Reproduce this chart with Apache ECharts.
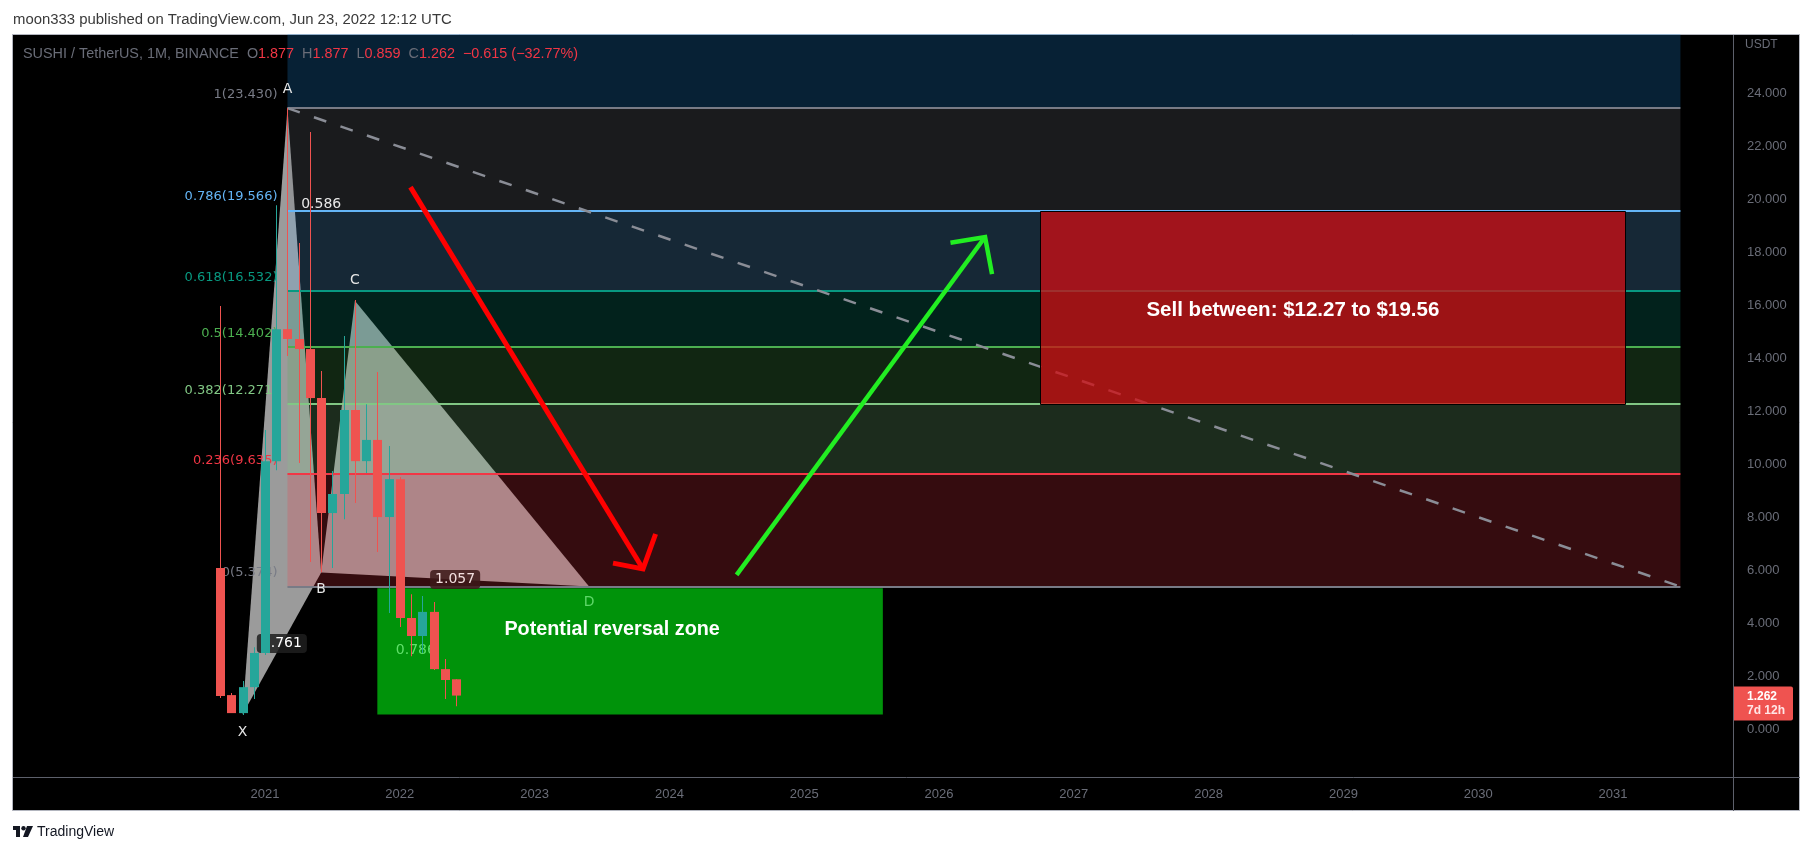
<!DOCTYPE html>
<html>
<head>
<meta charset="utf-8">
<script src="https://cdn.jsdelivr.net/npm/echarts@6/dist/echarts.min.js"></script>
<style>
html,body{margin:0;padding:0;background:#ffffff;}
#chart{width:1813px;height:856px;}
</style>
</head>
<body>
<div id="chart"></div>
<script>
// ---------------- data ----------------
const months = ['2020-09','2020-10','2020-11','2020-12','2021-01','2021-02','2021-03','2021-04','2021-05','2021-06','2021-07','2021-08','2021-09','2021-10','2021-11','2021-12','2022-01','2022-02','2022-03','2022-04','2022-05','2022-06'];
const opens  = [6.08,1.28,0.60,1.58,2.87,10.11,15.09,14.72,14.34,12.49,8.15,8.87,12.04,10.11,10.91,8.00,9.43,4.19,3.51,4.42,2.26,1.877];
const closes = [1.25,0.60,1.58,2.87,10.11,15.09,14.72,14.34,12.49,8.15,8.87,12.04,10.11,10.91,8.00,9.43,4.19,3.51,4.42,2.26,1.85,1.262];
const highs  = [15.96,1.36,1.81,3.09,11.28,19.77,23.43,18.34,22.53,13.51,9.74,14.83,16.19,12.26,13.47,10.68,9.51,5.09,5.02,4.79,2.64,1.877];
const lows   = [1.17,0.60,0.53,1.13,2.79,9.77,14.08,10.04,6.30,5.92,6.08,7.92,8.53,9.66,6.68,4.38,3.85,2.75,2.87,2.23,1.13,0.859];

// fibonacci retracement (A -> B)
const fibRatios = ['0','0.236','0.382','0.5','0.618','0.786','1','1.272'];
const fibValues = [5.374,9.635,12.271,14.402,16.532,19.566,23.430,28.341];
const fibColors = ['#787b86','#f23645','#81c784','#4caf50','#089981','#64b5f6','#787b86','#2196f3'];
const fibStartMonth = 2;     // Mar 2021 (point A)
const fibEndMonth = 126;     // Jul 2031

// XABCD pattern (x in months since Jan 2021)
const patternNames  = ['X','A','B','C','D'];
const patternMonths = [-2, 2, 5, 8, 28.85];
const patternValues = [0.55, 23.43, 5.91, 16.16, 5.374];
const ratioNames = ['0.761','0.586','1.057','0.786']; // XB, AC, BD, XD

// annotation zones
const sellZone = {start: 69, end: 121.1, low: 12.27, high: 19.56};
const reversalZone = {start: 10, end: 55.0, low: 0.55, high: 5.31};
const sellText = 'Sell between: $12.27 to $19.56';
const sellTextPos = [91.5, 15.81];
const reversalText = 'Potential reversal zone';
const reversalTextPos = [30.9, 3.74];

// arrows
const redArrowLine = [[12.95,20.45],[33.65,6.04]];
const redArrowHead = [[30.98,6.26],[33.65,6.04],[34.77,7.36]];
const greenArrowLine = [[41.98,5.82],[64.10,18.57]];
const greenArrowHead = [[61.02,18.35],[64.10,18.57],[64.72,17.17]];

const lastClose = 1.262;
const lastCountdown = '7d 12h';

// ---------------- helpers ----------------
function monthIndex(s){ const p = s.split('-').map(Number); return (p[0]-2021)*12 + (p[1]-1); }
function hexA(hex, a){ const n = parseInt(hex.slice(1),16); return 'rgba('+((n>>16)&255)+','+((n>>8)&255)+','+(n&255)+','+a+')'; }
function clip(r, cs){ return echarts.graphic.clipRectByRect(r, {x:cs.x, y:cs.y, width:cs.width, height:cs.height}); }
function single(z, fn){ return {type:'custom', z:z, silent:true, animation:false, data:[[0,0]], renderItem:fn}; }

const candleData = months.map((m,i)=>[monthIndex(m), opens[i], closes[i], lows[i], highs[i]]);
const P = patternNames.map((n,i)=>[patternMonths[i], patternValues[i]]);
const mid = (a,b)=>[(a[0]+b[0])/2, (a[1]+b[1])/2];

const chart = echarts.init(document.getElementById('chart'), null, {renderer:'canvas'});

const series = [];

// triangles of the pattern (under fib fills)
series.push(single(1, function(p, api){
  const c = P.map(q=>api.coord(q));
  return {type:'group', children:[
    {type:'polygon', shape:{points:[c[0],c[1],c[2]]}, style:{fill:'#9b9b9b'}},
    {type:'polygon', shape:{points:[c[2],c[3],c[4]]}, style:{fill:'#9b9b9b'}}
  ]};
}));

// fib zone fills
series.push(single(2, function(p, api){
  const cs = p.coordSys; const ch = [];
  for (let i=0;i<fibValues.length-1;i++){
    const a = api.coord([fibStartMonth, fibValues[i+1]]);
    const b = api.coord([fibEndMonth, fibValues[i]]);
    const r = clip({x:a[0], y:a[1], width:b[0]-a[0], height:b[1]-a[1]}, cs);
    if (r) ch.push({type:'rect', shape:r, style:{fill:hexA(fibColors[i+1], 0.22)}});
  }
  return {type:'group', children:ch};
}));

// reversal zone box
series.push(single(3, function(p, api){
  const a = api.coord([reversalZone.start, reversalZone.high]);
  const b = api.coord([reversalZone.end, reversalZone.low]);
  return {type:'rect', shape:{x:a[0], y:a[1], width:b[0]-a[0], height:b[1]-a[1]}, style:{fill:'#00930a'}};
}));

// fib lines + dashed trend line
series.push(single(3, function(p, api){
  const ch = [];
  for (let i=0;i<fibValues.length-1;i++){
    const a = api.coord([fibStartMonth, fibValues[i]]);
    const b = api.coord([fibEndMonth, fibValues[i]]);
    ch.push({type:'line', shape:{x1:a[0], y1:Math.round(a[1]), x2:b[0], y2:Math.round(b[1])}, style:{stroke:fibColors[i], lineWidth:2}});
  }
  const s = api.coord([fibStartMonth, fibValues[6]]);
  const e = api.coord([fibEndMonth, fibValues[0]]);
  ch.push({type:'line', shape:{x1:s[0], y1:s[1], x2:e[0], y2:e[1]}, style:{stroke:'#8a8d96', lineWidth:2.5, lineDash:[13,15]}});
  return {type:'group', children:ch};
}));

// labels: fib level labels, pattern letters, ratios
series.push(single(4, function(p, api){
  const ch = [];
  for (let i=0;i<7;i++){
    const a = api.coord([fibStartMonth, fibValues[i]]);
    ch.push({type:'text', x:a[0]-10, y:a[1]-13.5, style:{text:fibRatios[i]+'('+fibValues[i].toFixed(3)+')', fill:fibColors[i], font:'13px "DejaVu Sans"', align:'right', verticalAlign:'middle'}});
  }
  const c = P.map(q=>api.coord(q));
  const letterOff = [18, -19, 17, -20, 16];
  const letterCol = ['#e6e6e6','#e6e6e6','#e6e6e6','#e6e6e6','#5fd86a'];
  for (let i=0;i<5;i++){
    ch.push({type:'text', x:c[i][0], y:c[i][1]+letterOff[i], style:{text:patternNames[i], fill:letterCol[i], font:'14px "DejaVu Sans"', align:'center', verticalAlign:'middle'}});
  }
  const mXB = api.coord(mid(P[0],P[2])), mAC = api.coord(mid(P[1],P[3])), mBD = api.coord(mid(P[2],P[4])), mXD = api.coord(mid(P[0],P[4]));
  ch.push({type:'text', x:mXB[0], y:mXB[1], style:{text:ratioNames[0], fill:'#ffffff', font:'14px "DejaVu Sans"', align:'center', verticalAlign:'middle', backgroundColor:'rgba(30,30,30,0.85)', padding:[3,5,2,5], borderRadius:4}});
  ch.push({type:'text', x:mAC[0], y:mAC[1], style:{text:ratioNames[1], fill:'#e8e8e8', font:'14px "DejaVu Sans"', align:'center', verticalAlign:'middle'}});
  ch.push({type:'text', x:mBD[0], y:mBD[1], style:{text:ratioNames[2], fill:'#f2dede', font:'14px "DejaVu Sans"', align:'center', verticalAlign:'middle', backgroundColor:'rgba(60,25,25,0.85)', padding:[3,5,2,5], borderRadius:4}});
  ch.push({type:'text', x:mXD[0], y:mXD[1], style:{text:ratioNames[3], fill:'#5fe06a', font:'14px "DejaVu Sans"', align:'center', verticalAlign:'middle'}});
  ch.push({type:'text', x:api.coord(reversalTextPos)[0], y:api.coord(reversalTextPos)[1], style:{text:reversalText, fill:'#ffffff', font:'bold 19.8px "Liberation Sans"', align:'center', verticalAlign:'middle'}});
  return {type:'group', children:ch};
}));

// candles
series.push({
  type:'custom', z:5, silent:true, animation:false,
  data: candleData, encode:{x:0, y:[1,2,3,4]},
  renderItem: function(p, api){
    const m = api.value(0), o = api.value(1), c = api.value(2), l = api.value(3), h = api.value(4);
    const po = api.coord([m,o]), pc = api.coord([m,c]), pl = api.coord([m,l]), ph = api.coord([m,h]);
    const col = c >= o ? '#26a69a' : '#ef5350';
    const x = Math.round(po[0]);
    const top = Math.min(po[1],pc[1]), bot = Math.max(po[1],pc[1]);
    return {type:'group', children:[
      {type:'rect', shape:{x:x, y:ph[1], width:1, height:pl[1]-ph[1]}, style:{fill:col}},
      {type:'rect', shape:{x:x-4, y:top, width:9, height:Math.max(1,bot-top)}, style:{fill:col}}
    ]};
  }
});

// sell zone box and text
series.push(single(6, function(p, api){
  const a = api.coord([sellZone.start, sellZone.high]);
  const b = api.coord([sellZone.end, sellZone.low]);
  const t = api.coord(sellTextPos);
  return {type:'group', children:[
    {type:'rect', shape:{x:Math.round(a[0])+0.5, y:Math.round(a[1])+0.5, width:Math.round(b[0]-a[0]), height:Math.round(b[1]-a[1])}, style:{fill:'rgba(206,14,20,0.76)', stroke:'#000000', lineWidth:1}},
    {type:'text', x:t[0], y:t[1], style:{text:sellText, fill:'#ffffff', font:'bold 20.5px "Liberation Sans"', align:'center', verticalAlign:'middle'}}
  ]};
}));

// arrows
series.push(single(7, function(p, api){
  const f = pts=>pts.map(q=>api.coord(q));
  return {type:'group', children:[
    {type:'polyline', shape:{points:f(redArrowLine)}, style:{stroke:'#ff0000', lineWidth:5, fill:null}},
    {type:'polyline', shape:{points:f(redArrowHead)}, style:{stroke:'#ff0000', lineWidth:5, fill:null, lineJoin:'miter'}},
    {type:'polyline', shape:{points:f(greenArrowLine)}, style:{stroke:'#22ee22', lineWidth:4.5, fill:null}},
    {type:'polyline', shape:{points:f(greenArrowHead)}, style:{stroke:'#22ee22', lineWidth:4.5, fill:null, lineJoin:'miter'}}
  ]};
}));

// last price label on the price scale
series.push(single(8, function(p, api){
  const cs = p.coordSys; const y = api.coord([0, lastClose])[1];
  return {type:'group', children:[
    {type:'rect', shape:{x:cs.x+cs.width, y:y-9, width:60, height:34, r:[0,2,2,0]}, style:{fill:'#ef5350'}},
    {type:'text', x:cs.x+cs.width+14, y:y+1, style:{text:lastClose.toFixed(3), fill:'#ffffff', font:'bold 12px "Liberation Sans"', verticalAlign:'middle'}},
    {type:'text', x:cs.x+cs.width+14, y:y+15, style:{text:lastCountdown, fill:'#ffe6e6', font:'bold 12px "Liberation Sans"', verticalAlign:'middle'}}
  ]};
}));

const option = {
  backgroundColor:'#ffffff',
  animation:false,
  grid:{left:130.2, right:80, top:34, bottom:74, containLabel:false},
  xAxis:{type:'value', min:-12, max:130.68, interval:12,
    axisLine:{show:false}, axisTick:{show:false}, splitLine:{show:false},
    axisLabel:{color:'#6a6d78', fontSize:13, fontFamily:'Liberation Sans', margin:6,
      formatter:function(v){ return (v < 0 || Math.abs(v % 12) > 1e-6) ? '' : String(2021 + v/12); }}},
  yAxis:{type:'value', position:'right', min:-2, max:26.23, interval:2,
    axisLine:{show:false}, axisTick:{show:false}, splitLine:{show:false},
    axisLabel:{color:'#6a6d78', fontSize:13, fontFamily:'Liberation Sans', margin:14,
      formatter:function(v){ return (v < 0 || v > 24.0001) ? '' : v.toFixed(3); }}},
  graphic:[
    {type:'rect', z:-10, shape:{x:12.5, y:34.5, width:1787, height:776}, style:{fill:'#000000', stroke:'#b2b5be', lineWidth:1}},
    {type:'line', z:20, shape:{x1:1733.5, y1:35, x2:1733.5, y2:811}, style:{stroke:'#5d606b', lineWidth:1}},
    {type:'line', z:20, shape:{x1:13, y1:777.5, x2:1800, y2:777.5}, style:{stroke:'#5d606b', lineWidth:1}},
    {type:'text', z:20, x:1745, y:45, style:{text:'USDT', fill:'#6a6d78', font:'12px "Liberation Sans"', verticalAlign:'middle'}},
    {type:'text', z:20, x:13, y:20, style:{text:'moon333 published on TradingView.com, Jun 23, 2022 12:12 UTC', fill:'#3a3a3a', font:'14.9px "Liberation Sans"', verticalAlign:'middle'}},
    {type:'text', z:20, x:23, y:54, style:{
      text:'{g|SUSHI / TetherUS, 1M, BINANCE  O}{r|1.877}{g|  H}{r|1.877}{g|  L}{r|0.859}{g|  C}{r|1.262}{r|  −0.615 (−32.77%)}',
      rich:{g:{fill:'#6a6d78', font:'14.4px "Liberation Sans"'}, r:{fill:'#f23645', font:'14.4px "Liberation Sans"'}},
      verticalAlign:'middle'}},
    {type:'group', z:20, x:13, y:826, children:[
      {type:'rect', shape:{x:0, y:0, width:7, height:4}, style:{fill:'#131722'}},
      {type:'rect', shape:{x:3, y:0, width:4, height:11}, style:{fill:'#131722'}},
      {type:'circle', shape:{cx:10.5, cy:2.2, r:2.2}, style:{fill:'#131722'}},
      {type:'polygon', shape:{points:[[14,0],[20,0],[15,11],[10,11]]}, style:{fill:'#131722'}}
    ]},
    {type:'text', z:20, x:37, y:832, style:{text:'TradingView', fill:'#131722', font:'14px "Liberation Sans"', verticalAlign:'middle'}}
  ],
  series:series
};
chart.setOption(option);
</script>
</body>
</html>
